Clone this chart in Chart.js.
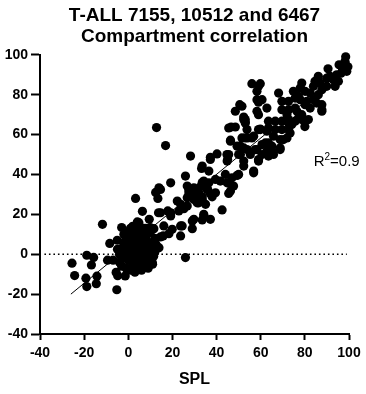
<!DOCTYPE html>
<html>
<head>
<meta charset="utf-8">
<script src="https://cdn.jsdelivr.net/npm/chart.js@4/dist/chart.umd.min.js"></script>
<style>
  html, body { margin: 0; padding: 0; background: #fff; }
  #wrap { width: 366px; height: 394px; }
</style>
</head>
<body>
<div id="wrap"><canvas id="chart"></canvas></div>
<script>
// values, [SPL, compartment]
var lowerTail = [
    [-25.5, -4.5], [-24.3, -10.7], [-18.8, -0.5], [-15.7, -1.6], [-16.7, -5.4],
    [-19.2, -12], [-18.8, -16.2], [-14.2, -11], [-14.5, -14.8], [-11.7, 15],
    [-8.4, 5.4], [-9.4, -3], [-6.9, -3], [-5.5, -9.1], [-4.8, -10.8],
    [-1.4, -10.9], [-5.2, -17.8], [-3, 13.4], [-4.9, 2.5], [25.9, -1.7],
    [12.8, 63.5], [16.9, 54.5]
];
var originCluster = [
    [-4, 0], [-3, 3], [-2, -2], [-2, 6], [-1, 1], [-1, 9], [0, -3], [0, 4],
    [0, 11], [1, -1], [1, 6], [1, 13], [2, 2], [2, -5], [2, 8], [3, 0],
    [3, 4], [3, 10], [4, -2], [4, 6], [4, 12], [5, 1], [5, -6], [5, 8],
    [6, 3], [6, -3], [6, 10], [7, 0], [7, 6], [7, 13], [8, -4], [8, 3],
    [8, 9], [9, 1], [9, -7], [9, 6], [10, -2], [10, 11], [11, 4], [11, -5],
    [12, 1], [12, 8], [-3, -6], [-1, -7], [1, -8], [3, -9], [-2, 10], [0, 7],
    [2, 14], [5, 14], [6, -8], [4, -6], [10.9, -4.2], [11.5, -1], [8, 13], [-4, -4],
    [-5, 7], [3, -3], [7, -6], [12.5, 5], [13.9, 3.3], [10, 0], [15.8, 9.2]
];
var lowBand = [
    [13.7, 20.8], [17.9, 21.7], [9.5, 17.5], [4.8, 15.8], [10, 13.3], [6.4, 21.5],
    [3.3, 28], [13.4, 28], [12.4, 31], [13.9, 33.3], [19.2, 35.8], [14.6, 32.5],
    [14.6, 20.8], [19.2, 19.2], [16.1, 14.2], [19.9, 12.5], [18.4, 10.3], [14.6, 8.7],
    [11.6, 12.8], [4.1, 16.2], [23.7, 9.2], [24.4, 14.2], [23.7, 14.2], [29, 12.8],
    [29, 16.7], [22.9, 21.7], [25.2, 22.8], [19.2, 20.8], [29.7, 17.5], [34.2, 19.2],
    [37.2, 17.5], [33.5, 17.2], [34.2, 20], [42.5, 22.2], [22.2, 26.7], [23.7, 25],
    [26.7, 24.2], [31.2, 25.8], [31.9, 25.8], [35, 25], [26.7, 28.3], [29.7, 27.5]
];
var midBand = [
    [27.4, 30], [30.4, 30], [33.5, 28.8], [38, 28.8], [33.5, 27.5], [31.9, 30.8],
    [37.2, 30.3], [39.5, 30.8], [27.4, 31.7], [29.7, 33.3], [32.7, 33.8], [36, 32.5],
    [35.7, 32.5], [26.7, 34.2], [33.5, 36], [34.2, 36.7], [36.5, 35.8], [39.5, 37.5],
    [41.7, 36.7], [44.8, 35.8], [45.5, 30.5], [46.3, 31.7], [47.7, 34.2], [45.3, 35.8],
    [25.9, 39.2], [44, 40], [47, 38.3], [49.3, 39.5], [50, 40], [56.8, 40.8],
    [52.3, 44.2], [56.8, 41.7], [59, 46.7], [52.3, 46.7], [44.8, 46.7], [45, 47.5],
    [33.5, 44.2], [33.2, 43], [36.5, 41.7], [37.2, 47.5], [37.2, 48.6], [28.2, 49.2],
    [40.2, 50.3], [44.7, 50], [45.5, 50], [50.8, 50], [50, 50], [55.3, 50],
    [53.8, 52.5], [57.5, 52.5], [62.8, 51.7], [52.3, 53.3], [50.8, 54.2], [49.3, 54.2],
    [60.6, 55], [63.5, 55.8], [46.3, 56.7], [46.3, 57.2], [51.5, 58.3], [53, 58.3],
    [56, 58.3], [54.1, 58.3], [56.8, 59.2], [59, 62.5], [59.8, 62.8], [62.8, 61.7]
];
var upperBand = [
    [46.6, 63.8], [48.5, 63.8], [45.5, 63.3], [53.8, 62.5], [53, 65.8], [53, 66.2],
    [53, 67.5], [52.3, 68.8], [52.3, 67.5], [59, 70], [58.3, 71.7], [48.5, 71.7],
    [50.5, 75], [51.5, 74.2], [59, 76.2], [58.3, 77.5], [60.6, 77.5], [58.3, 81.7],
    [56, 85.5], [59, 84.2], [59.8, 85.5], [62.8, 73.3], [65.1, 51.7], [68.8, 53.3],
    [65.8, 50], [65.1, 54.2], [68.8, 52.5], [58.3, 52.5], [60.6, 50], [63.5, 49.2],
    [59, 47.5], [62.1, 55.8], [65.8, 59.2], [68.8, 57.5], [70.3, 57.5], [71.9, 58.3],
    [73.3, 60.8], [59.8, 62.5], [63.5, 63.3], [66.6, 62.5], [69.6, 62.5], [72.6, 62.5],
    [63.5, 66.7], [66.6, 66.7], [69.6, 66.7], [72.6, 67.5], [74.1, 65], [72.6, 65.8],
    [75.6, 66.7], [77.1, 68.3], [78.6, 67.5], [80, 64], [81.6, 67.5], [78.6, 70],
    [71.9, 70], [69.6, 72.5], [72.6, 72.5], [75.6, 73.3], [76.4, 71.7], [80.1, 75],
    [82.4, 73.3], [87.7, 71.7], [87.7, 72.5], [85.4, 75.8], [87.7, 75], [69.6, 76.7],
    [72.6, 76.7], [75.6, 78.3], [77.9, 77.5], [80.9, 76.7], [68.1, 80.8], [74.8, 81.7]
];
var topRight = [
    [77.1, 79.2], [80.1, 81.7], [77.9, 83.3], [78.6, 85.8], [82.4, 80.8], [83.9, 77.5],
    [86.1, 80], [83.9, 84.2], [84.6, 86.7], [86.9, 85.8], [87.7, 82.5], [89.9, 84.2],
    [86.1, 89.2], [89.9, 88.3], [91.4, 89.2], [92.9, 87.5], [93.7, 84.2], [95.2, 86.7],
    [94.4, 90], [96.4, 90.8], [90.5, 93], [95.5, 95], [97, 93.3], [99, 91.7],
    [99.5, 94], [98.2, 95.8], [98.2, 96.7], [98.5, 99]
];
var fitLine = [[-26, -20], [98.5, 93.3]];
var zeroLine = [[-38, 0], [99, 0]];

var xTicks = { min: -40, max: 100, step: 20 };
var yTicks = { min: -40, max: 100, step: 20 };

var FONT = "Arial, 'Liberation Sans', Helvetica, sans-serif";

function toXY(list) {
    return list.map(function (p) { return { x: p[0], y: p[1] }; });
}

var allPoints = [].concat(lowerTail, originCluster, lowBand, midBand, upperBand, topRight);

var r2Label = {
    id: "r2Label",
    afterDatasetsDraw: function (chart) {
        var ctx = chart.ctx;
        var px = chart.scales.x.getPixelForValue(84);
        var py = chart.scales.y.getPixelForValue(44.2);
        ctx.save();
        ctx.fillStyle = "#000";
        ctx.textBaseline = "alphabetic";
        ctx.textAlign = "left";
        ctx.font = "15px " + FONT;
        ctx.fillText("R", px, py);
        var w = ctx.measureText("R").width;
        ctx.font = "10px " + FONT;
        ctx.fillText("2", px + w, py - 6);
        var w2 = ctx.measureText("2").width;
        ctx.font = "15px " + FONT;
        ctx.fillText("=0.9", px + w + w2, py);
        ctx.restore();
    }
};

var canvas = document.getElementById("chart");
var chart = new Chart(canvas, {
    type: "scatter",
    data: {
        datasets: [
            {
                label: "cells",
                data: toXY(allPoints),
                pointRadius: 4.6,
                pointHoverRadius: 4.6,
                backgroundColor: "#000",
                borderWidth: 0,
                clip: false
            },
            {
                label: "fit",
                data: toXY(fitLine),
                showLine: true,
                pointRadius: 0,
                borderColor: "#000",
                borderWidth: 1
            },
            {
                label: "zero",
                data: toXY(zeroLine),
                showLine: true,
                pointRadius: 0,
                borderColor: "#000",
                borderWidth: 1.6,
                borderDash: [1.6, 2.9]
            }
        ]
    },
    options: {
        responsive: true,
        maintainAspectRatio: false,
        animation: false,
        events: [],
        layout: {
            padding: { left: 0, right: 17, top: 4, bottom: 4 }
        },
        plugins: {
            legend: { display: false },
            tooltip: { enabled: false },
            title: {
                display: true,
                fullSize: false,
                text: ["T-ALL 7155, 10512 and 6467", "Compartment correlation"],
                color: "#000",
                font: { family: FONT, size: 19, weight: "bold", lineHeight: 1.1 },
                padding: { top: 1, bottom: 8 }
            }
        },
        scales: {
            x: {
                type: "linear",
                min: xTicks.min,
                max: xTicks.max,
                ticks: {
                    stepSize: xTicks.step,
                    color: "#000",
                    font: { family: FONT, size: 14, weight: "bold" },
                    padding: 5,
                    maxRotation: 0
                },
                grid: {
                    drawOnChartArea: false,
                    drawTicks: true,
                    tickLength: 6,
                    tickWidth: 2,
                    tickColor: "#000"
                },
                border: { color: "#000", width: 2 },
                title: {
                    display: true,
                    text: "SPL",
                    color: "#000",
                    font: { family: FONT, size: 16, weight: "bold" },
                    padding: { top: 0, bottom: 1 }
                },
                afterFit: function (scale) { scale.height = 56; }
            },
            y: {
                type: "linear",
                min: yTicks.min,
                max: yTicks.max,
                ticks: {
                    stepSize: yTicks.step,
                    color: "#000",
                    font: { family: FONT, size: 14, weight: "bold" },
                    padding: 3
                },
                grid: {
                    drawOnChartArea: false,
                    drawTicks: true,
                    tickLength: 9,
                    tickWidth: 2,
                    tickColor: "#000"
                },
                border: { color: "#000", width: 2 },
                afterFit: function (scale) { scale.width = 40; }
            }
        }
    },
    plugins: [r2Label]
});
</script>
</body>
</html>
